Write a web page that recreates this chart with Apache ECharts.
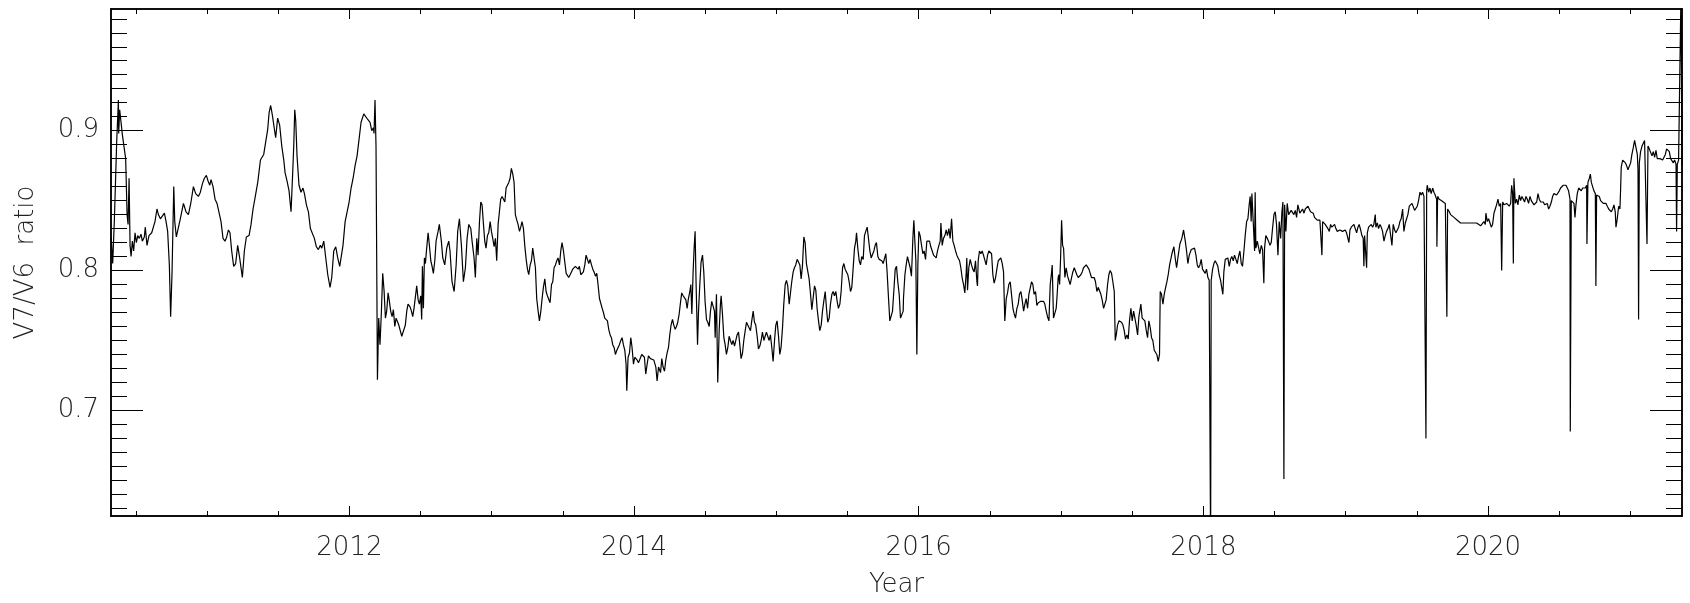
<!DOCTYPE html>
<html>
<head>
<meta charset="utf-8">
<script src="https://cdn.jsdelivr.net/npm/echarts@6/dist/echarts.min.js"></script>
<style>
  html, body { margin: 0; padding: 0; background: #fff; }
  #main { width: 1690px; height: 603px; }
</style>
</head>
<body>
<div id="main"></div>
<script>
// V7/V6 ratio, [decimal year, ratio]
const ratio2010 = [
  [2010.327,0.823],[2010.337,0.805],[2010.349,0.837],[2010.365,0.892],[2010.377,0.922],[2010.379,0.898],[2010.386,0.915],
  [2010.405,0.897],[2010.428,0.880],[2010.438,0.840],[2010.445,0.833],[2010.452,0.866],[2010.459,0.818],[2010.466,0.810],
  [2010.475,0.821],[2010.484,0.814],[2010.494,0.827],[2010.503,0.820],[2010.513,0.825],[2010.524,0.823],[2010.536,0.826],
  [2010.545,0.821],[2010.559,0.824],[2010.566,0.831],[2010.578,0.818],[2010.592,0.825],[2010.611,0.827],[2010.625,0.827],
  [2010.634,0.835],[2010.648,0.844],[2010.658,0.840],[2010.672,0.837],[2010.686,0.838],[2010.700,0.841],[2010.712,0.835],
  [2010.723,0.828],[2010.735,0.804],[2010.744,0.767],[2010.754,0.799],[2010.766,0.860],[2010.773,0.835],[2010.784,0.824],
  [2010.798,0.825],[2010.812,0.837],[2010.834,0.848],[2010.852,0.842],[2010.869,0.840],[2010.887,0.849],[2010.904,0.860],
  [2010.920,0.855],[2010.939,0.853],[2010.953,0.856],[2010.967,0.862],[2010.981,0.866],[2010.995,0.868]
];
const ratio2011 = [
  [2011.007,0.864],[2011.019,0.861],[2011.028,0.865],[2011.042,0.860],[2011.056,0.851],[2011.070,0.848],[2011.084,0.847],
  [2011.098,0.835],[2011.112,0.823],[2011.126,0.821],[2011.138,0.824],[2011.150,0.829],[2011.161,0.827],[2011.173,0.814],
  [2011.187,0.803],[2011.201,0.805],[2011.215,0.818],[2011.229,0.809],[2011.248,0.795],[2011.262,0.814],[2011.276,0.824],
  [2011.295,0.825],[2011.309,0.833],[2011.323,0.844],[2011.337,0.852],[2011.356,0.863],[2011.375,0.879],[2011.398,0.883],
  [2011.412,0.892],[2011.426,0.901],[2011.436,0.913],[2011.447,0.918],[2011.459,0.911],[2011.473,0.901],[2011.482,0.895],
  [2011.496,0.909],[2011.510,0.904],[2011.525,0.889],[2011.539,0.879],[2011.548,0.870],[2011.562,0.864],[2011.576,0.857],
  [2011.585,0.856],[2011.590,0.842],[2011.600,0.866],[2011.609,0.889],[2011.616,0.915],[2011.623,0.907],[2011.632,0.882],
  [2011.646,0.861],[2011.660,0.856],[2011.674,0.859],[2011.684,0.855],[2011.698,0.847],[2011.712,0.842],[2011.726,0.830],
  [2011.740,0.829],[2011.754,0.823],[2011.768,0.817],[2011.782,0.815],[2011.796,0.818],[2011.806,0.816],[2011.820,0.821],
  [2011.834,0.809],[2011.848,0.797],[2011.864,0.788],[2011.876,0.795],[2011.890,0.814],[2011.904,0.817],[2011.918,0.809],
  [2011.932,0.803],[2011.941,0.802],[2011.955,0.818],[2011.970,0.835],[2011.984,0.842],[2011.998,0.849]
];
const ratio2012 = [
  [2012.012,0.859],[2012.026,0.866],[2012.040,0.875],[2012.054,0.882],[2012.068,0.894],[2012.082,0.906],[2012.101,0.912],
  [2012.115,0.911],[2012.129,0.908],[2012.145,0.906],[2012.157,0.900],[2012.169,0.902],[2012.173,0.898],[2012.180,0.922],
  [2012.187,0.889],[2012.197,0.722],[2012.206,0.766],[2012.215,0.747],[2012.225,0.771],[2012.234,0.798],[2012.244,0.785],
  [2012.253,0.766],[2012.262,0.771],[2012.272,0.784],[2012.281,0.778],[2012.290,0.771],[2012.300,0.767],[2012.309,0.772],
  [2012.319,0.760],[2012.328,0.766],[2012.337,0.765],[2012.347,0.761],[2012.356,0.760],[2012.368,0.753],[2012.379,0.754],
  [2012.393,0.761],[2012.403,0.771],[2012.412,0.776],[2012.426,0.774],[2012.436,0.771],[2012.445,0.767],[2012.454,0.773],
  [2012.464,0.774],[2012.473,0.789],[2012.483,0.779],[2012.492,0.776],[2012.501,0.782],[2012.508,0.765],[2012.513,0.803],
  [2012.520,0.773],[2012.527,0.809],[2012.534,0.805],[2012.543,0.816],[2012.553,0.827],[2012.562,0.818],[2012.572,0.807],
  [2012.581,0.803],[2012.590,0.798],[2012.600,0.807],[2012.609,0.821],[2012.623,0.828],[2012.632,0.833],[2012.646,0.821],
  [2012.656,0.809],[2012.670,0.804],[2012.684,0.816],[2012.698,0.821],[2012.707,0.814],[2012.721,0.792],[2012.736,0.785],
  [2012.750,0.804],[2012.761,0.828],[2012.773,0.837],[2012.787,0.818],[2012.801,0.792],[2012.815,0.802],[2012.827,0.823],
  [2012.839,0.833],[2012.853,0.830],[2012.862,0.821],[2012.876,0.809],[2012.885,0.795],[2012.895,0.823],[2012.904,0.811],
  [2012.914,0.835],[2012.923,0.849],[2012.932,0.847],[2012.942,0.833],[2012.951,0.821],[2012.960,0.816],[2012.970,0.825],
  [2012.979,0.827],[2012.989,0.835],[2012.998,0.828]
];
const ratio2013 = [
  [2013.007,0.823],[2013.017,0.817],[2013.026,0.823],[2013.035,0.807],[2013.045,0.833],[2013.054,0.842],[2013.063,0.851],
  [2013.073,0.853],[2013.082,0.854],[2013.092,0.849],[2013.101,0.859],[2013.110,0.861],[2013.120,0.863],[2013.129,0.866],
  [2013.138,0.873],[2013.148,0.869],[2013.157,0.863],[2013.166,0.840],[2013.176,0.836],[2013.185,0.833],[2013.195,0.828],
  [2013.204,0.831],[2013.213,0.835],[2013.223,0.830],[2013.232,0.818],[2013.242,0.808],[2013.251,0.801],[2013.260,0.797],
  [2013.270,0.804],[2013.279,0.807],[2013.288,0.816],[2013.298,0.817],[2013.307,0.802],[2013.316,0.780],[2013.326,0.771],
  [2013.335,0.764],[2013.345,0.771],[2013.354,0.780],[2013.363,0.788],[2013.373,0.794],[2013.382,0.785],[2013.391,0.782],
  [2013.401,0.783],[2013.410,0.777],[2013.420,0.790],[2013.429,0.792],[2013.438,0.802],[2013.448,0.804],[2013.457,0.807],
  [2013.466,0.809],[2013.476,0.804],[2013.485,0.814],[2013.494,0.820],[2013.504,0.814],[2013.513,0.815],[2013.523,0.798],
  [2013.532,0.797],[2013.541,0.795],[2013.551,0.797],[2013.560,0.799],[2013.569,0.801],[2013.579,0.801],[2013.588,0.803],
  [2013.597,0.802],[2013.607,0.801],[2013.616,0.803],[2013.626,0.797],[2013.635,0.797],[2013.644,0.799],[2013.654,0.804],
  [2013.663,0.811],[2013.672,0.812],[2013.682,0.805],[2013.691,0.808],[2013.701,0.804],[2013.710,0.801],[2013.719,0.799],
  [2013.729,0.796],[2013.738,0.798],[2013.747,0.790],[2013.757,0.780],[2013.766,0.779],[2013.776,0.773],[2013.785,0.770],
  [2013.794,0.766],[2013.804,0.765],[2013.813,0.764],[2013.822,0.758],[2013.832,0.754],[2013.841,0.752],[2013.850,0.747],
  [2013.860,0.745],[2013.869,0.740],[2013.879,0.743],[2013.888,0.745],[2013.897,0.747],[2013.907,0.750],[2013.916,0.752],
  [2013.925,0.747],[2013.935,0.743],[2013.944,0.733],[2013.949,0.714],[2013.958,0.738],[2013.968,0.741],[2013.977,0.752],
  [2013.986,0.745],[2013.996,0.733]
];
const ratio2014 = [
  [2014.005,0.738],[2014.022,0.736],[2014.031,0.734],[2014.043,0.734],[2014.054,0.740],[2014.064,0.741],[2014.073,0.738],
  [2014.082,0.726],[2014.092,0.733],[2014.101,0.739],[2014.115,0.737],[2014.129,0.738],[2014.139,0.736],[2014.153,0.731],
  [2014.162,0.721],[2014.172,0.731],[2014.186,0.727],[2014.195,0.737],[2014.204,0.731],[2014.214,0.728],[2014.223,0.736],
  [2014.232,0.741],[2014.242,0.745],[2014.251,0.754],[2014.260,0.761],[2014.270,0.765],[2014.279,0.761],[2014.289,0.758],
  [2014.298,0.760],[2014.307,0.763],[2014.317,0.769],[2014.326,0.777],[2014.335,0.784],[2014.345,0.782],[2014.354,0.783],
  [2014.364,0.779],[2014.373,0.773],[2014.382,0.780],[2014.392,0.785],[2014.399,0.790],[2014.406,0.769],[2014.415,0.799],
  [2014.422,0.816],[2014.429,0.828],[2014.436,0.790],[2014.446,0.747],[2014.453,0.771],[2014.462,0.790],[2014.471,0.806],
  [2014.481,0.811],[2014.490,0.799],[2014.499,0.778],[2014.509,0.765],[2014.518,0.763],[2014.528,0.760],[2014.537,0.771],
  [2014.546,0.778],[2014.556,0.779],[2014.565,0.771],[2014.570,0.752],[2014.579,0.783],[2014.588,0.720],[2014.598,0.757],
  [2014.607,0.776],[2014.612,0.782],[2014.621,0.769],[2014.631,0.752],[2014.640,0.747],[2014.649,0.740],[2014.659,0.745],
  [2014.668,0.753],[2014.677,0.750],[2014.687,0.747],[2014.696,0.750],[2014.706,0.746],[2014.715,0.750],[2014.724,0.754],
  [2014.734,0.756],[2014.743,0.747],[2014.752,0.737],[2014.762,0.741],[2014.771,0.750],[2014.781,0.757],[2014.790,0.763],
  [2014.799,0.761],[2014.809,0.760],[2014.818,0.757],[2014.827,0.764],[2014.837,0.771],[2014.846,0.763],[2014.855,0.761],
  [2014.865,0.753],[2014.874,0.744],[2014.884,0.746],[2014.893,0.750],[2014.902,0.756],[2014.912,0.750],[2014.921,0.753],
  [2014.930,0.756],[2014.940,0.757],[2014.949,0.750],[2014.958,0.754],[2014.968,0.745],[2014.977,0.735],[2014.987,0.750],
  [2014.996,0.761]
];
const ratio2015 = [
  [2015.005,0.764],[2015.015,0.753],[2015.024,0.740],[2015.033,0.745],[2015.043,0.759],[2015.052,0.776],[2015.062,0.790],
  [2015.071,0.793],[2015.080,0.789],[2015.090,0.776],[2015.099,0.777],[2015.108,0.792],[2015.118,0.799],[2015.127,0.802],
  [2015.136,0.804],[2015.146,0.808],[2015.155,0.807],[2015.165,0.804],[2015.174,0.794],[2015.183,0.803],[2015.193,0.824],
  [2015.202,0.820],[2015.211,0.805],[2015.221,0.804],[2015.230,0.794],[2015.240,0.783],[2015.249,0.772],[2015.258,0.773],
  [2015.268,0.789],[2015.277,0.786],[2015.286,0.773],[2015.296,0.764],[2015.305,0.757],[2015.315,0.761],[2015.324,0.771],
  [2015.333,0.778],[2015.343,0.785],[2015.352,0.773],[2015.361,0.763],[2015.371,0.766],[2015.380,0.776],[2015.390,0.783],
  [2015.399,0.785],[2015.408,0.782],[2015.418,0.785],[2015.427,0.778],[2015.436,0.773],[2015.446,0.776],[2015.455,0.785],
  [2015.465,0.802],[2015.474,0.805],[2015.483,0.801],[2015.493,0.802],[2015.502,0.797],[2015.511,0.792],[2015.521,0.785],
  [2015.530,0.788],[2015.539,0.801],[2015.549,0.816],[2015.558,0.821],[2015.563,0.827],[2015.572,0.816],[2015.582,0.807],
  [2015.591,0.804],[2015.600,0.810],[2015.610,0.808],[2015.619,0.825],[2015.628,0.828],[2015.638,0.831],[2015.647,0.823],
  [2015.657,0.814],[2015.666,0.809],[2015.675,0.810],[2015.685,0.814],[2015.694,0.818],[2015.703,0.820],[2015.713,0.810],
  [2015.722,0.808],[2015.732,0.808],[2015.741,0.807],[2015.750,0.805],[2015.760,0.804],[2015.769,0.812],[2015.778,0.799],
  [2015.788,0.780],[2015.797,0.764],[2015.806,0.763],[2015.816,0.771],[2015.825,0.785],[2015.835,0.801],[2015.844,0.803],
  [2015.853,0.792],[2015.863,0.783],[2015.872,0.766],[2015.881,0.765],[2015.891,0.771],[2015.893,0.780],[2015.903,0.797],
  [2015.912,0.804],[2015.921,0.810],[2015.931,0.809],[2015.940,0.802],[2015.949,0.796],[2015.954,0.809],[2015.959,0.823],
  [2015.966,0.836],[2015.973,0.821],[2015.980,0.807],[2015.987,0.740],[2015.994,0.804]
];
const ratio2016 = [
  [2016.001,0.828],[2016.010,0.825],[2016.020,0.818],[2016.029,0.812],[2016.038,0.814],[2016.048,0.808],[2016.057,0.821],
  [2016.067,0.822],[2016.076,0.821],[2016.085,0.817],[2016.095,0.814],[2016.104,0.811],[2016.113,0.812],[2016.123,0.809],
  [2016.132,0.814],[2016.142,0.818],[2016.151,0.821],[2016.156,0.834],[2016.165,0.818],[2016.174,0.823],[2016.184,0.825],
  [2016.193,0.829],[2016.202,0.825],[2016.212,0.830],[2016.221,0.823],[2016.231,0.837],[2016.240,0.821],[2016.249,0.818],
  [2016.259,0.814],[2016.268,0.811],[2016.277,0.809],[2016.287,0.807],[2016.296,0.802],[2016.305,0.795],[2016.315,0.790],
  [2016.324,0.784],[2016.334,0.799],[2016.338,0.809],[2016.343,0.786],[2016.352,0.802],[2016.362,0.808],[2016.371,0.804],
  [2016.380,0.801],[2016.390,0.799],[2016.399,0.807],[2016.409,0.792],[2016.413,0.789],[2016.418,0.807],[2016.427,0.814],
  [2016.437,0.812],[2016.446,0.814],[2016.455,0.811],[2016.465,0.812],[2016.474,0.804],[2016.484,0.811],[2016.493,0.814],
  [2016.502,0.815],[2016.512,0.812],[2016.521,0.797],[2016.530,0.791],[2016.540,0.795],[2016.549,0.801],[2016.559,0.807],
  [2016.568,0.808],[2016.577,0.809],[2016.587,0.805],[2016.596,0.799],[2016.605,0.764],[2016.615,0.780],[2016.624,0.784],
  [2016.633,0.790],[2016.643,0.792],[2016.652,0.783],[2016.662,0.773],[2016.671,0.769],[2016.680,0.766],[2016.690,0.773],
  [2016.699,0.776],[2016.708,0.783],[2016.718,0.785],[2016.727,0.779],[2016.737,0.771],[2016.746,0.776],[2016.755,0.780],
  [2016.765,0.773],[2016.774,0.783],[2016.783,0.783],[2016.793,0.792],[2016.802,0.790],[2016.811,0.783],[2016.821,0.785],
  [2016.830,0.775],[2016.840,0.777],[2016.849,0.778],[2016.858,0.778],[2016.868,0.779],[2016.877,0.778],[2016.886,0.776],
  [2016.896,0.771],[2016.905,0.767],[2016.915,0.764],[2016.924,0.790],[2016.933,0.798],[2016.938,0.804],[2016.947,0.766],
  [2016.957,0.766],[2016.966,0.773],[2016.971,0.780],[2016.980,0.795],[2016.985,0.797],[2016.990,0.790],[2016.997,0.809]
];
const ratio2017 = [
  [2017.004,0.836],[2017.011,0.818],[2017.018,0.816],[2017.027,0.795],[2017.036,0.802],[2017.046,0.796],[2017.055,0.795],
  [2017.064,0.790],[2017.074,0.795],[2017.083,0.799],[2017.093,0.802],[2017.102,0.801],[2017.111,0.797],[2017.121,0.795],
  [2017.130,0.794],[2017.139,0.797],[2017.149,0.799],[2017.158,0.802],[2017.167,0.803],[2017.177,0.804],[2017.186,0.803],
  [2017.196,0.801],[2017.205,0.798],[2017.214,0.795],[2017.224,0.794],[2017.233,0.795],[2017.242,0.792],[2017.252,0.785],
  [2017.261,0.788],[2017.271,0.789],[2017.280,0.783],[2017.289,0.779],[2017.299,0.773],[2017.308,0.773],[2017.317,0.779],
  [2017.327,0.790],[2017.336,0.797],[2017.345,0.800],[2017.355,0.798],[2017.364,0.792],[2017.374,0.785],[2017.381,0.750],
  [2017.388,0.754],[2017.397,0.761],[2017.407,0.764],[2017.416,0.764],[2017.425,0.763],[2017.435,0.761],[2017.444,0.757],
  [2017.453,0.751],[2017.463,0.754],[2017.472,0.751],[2017.481,0.764],[2017.491,0.773],[2017.500,0.764],[2017.510,0.771],
  [2017.519,0.770],[2017.528,0.761],[2017.538,0.754],[2017.547,0.767],[2017.556,0.766],[2017.561,0.776],[2017.570,0.766],
  [2017.580,0.766],[2017.589,0.764],[2017.599,0.757],[2017.608,0.752],[2017.617,0.764],[2017.627,0.759],[2017.636,0.752],
  [2017.645,0.750],[2017.655,0.743],[2017.664,0.743],[2017.673,0.740],[2017.683,0.735],[2017.692,0.740],[2017.697,0.785],
  [2017.706,0.783],[2017.716,0.776],[2017.725,0.783],[2017.735,0.788],[2017.744,0.792],[2017.753,0.797],[2017.763,0.804],
  [2017.779,0.812],[2017.793,0.817],[2017.802,0.809],[2017.812,0.802],[2017.821,0.809],[2017.835,0.819],[2017.849,0.823],
  [2017.861,0.829],[2017.873,0.821],[2017.882,0.814],[2017.891,0.805],[2017.901,0.811],[2017.915,0.815],[2017.929,0.814],
  [2017.938,0.816],[2017.948,0.811],[2017.957,0.804],[2017.966,0.802],[2017.976,0.804],[2017.985,0.808],[2017.994,0.801]
];
const ratio2018 = [
  [2018.004,0.801],[2018.013,0.798],[2018.022,0.801],[2018.032,0.795],[2018.041,0.793],[2018.048,0.792],[2018.051,0.600],
  [2018.055,0.793],[2018.065,0.801],[2018.074,0.805],[2018.083,0.807],[2018.093,0.805],[2018.102,0.803],[2018.111,0.797],
  [2018.121,0.793],[2018.130,0.793],[2018.137,0.783],[2018.144,0.799],[2018.154,0.808],[2018.163,0.807],[2018.172,0.809],
  [2018.182,0.803],[2018.191,0.808],[2018.200,0.810],[2018.210,0.807],[2018.219,0.811],[2018.229,0.808],[2018.238,0.805],
  [2018.247,0.810],[2018.257,0.814],[2018.266,0.805],[2018.275,0.803],[2018.285,0.814],[2018.294,0.825],[2018.304,0.835],
  [2018.313,0.837],[2018.322,0.847],[2018.329,0.853],[2018.336,0.835],[2018.341,0.855],[2018.348,0.854],[2018.355,0.856],
  [2018.360,0.814],[2018.364,0.856],[2018.369,0.816],[2018.379,0.821],[2018.388,0.820],[2018.397,0.812],[2018.407,0.818],
  [2018.416,0.815],[2018.425,0.791],[2018.430,0.816],[2018.439,0.825],[2018.449,0.823],[2018.458,0.821],[2018.468,0.818],
  [2018.477,0.820],[2018.486,0.830],[2018.496,0.840],[2018.505,0.842],[2018.514,0.833],[2018.524,0.811],[2018.533,0.835],
  [2018.543,0.823],[2018.552,0.842],[2018.559,0.849],[2018.566,0.651],[2018.571,0.847],[2018.580,0.828],[2018.589,0.848],
  [2018.599,0.840],[2018.608,0.841],[2018.617,0.843],[2018.627,0.842],[2018.636,0.840],[2018.646,0.843],[2018.655,0.838],
  [2018.664,0.847],[2018.669,0.848],[2018.678,0.841],[2018.688,0.842],[2018.697,0.844],[2018.707,0.841],[2018.716,0.844],
  [2018.725,0.844],[2018.735,0.846],[2018.744,0.844],[2018.753,0.842],[2018.763,0.841],[2018.772,0.841],[2018.781,0.838],
  [2018.791,0.837],[2018.800,0.836],[2018.810,0.835],[2018.819,0.836],[2018.828,0.835],[2018.833,0.811],[2018.838,0.835],
  [2018.847,0.834],[2018.856,0.833],[2018.866,0.833],[2018.875,0.830],[2018.885,0.828],[2018.894,0.833],[2018.903,0.831],
  [2018.913,0.831],[2018.922,0.833],[2018.931,0.830],[2018.941,0.828],[2018.950,0.827],[2018.959,0.829],[2018.969,0.828],
  [2018.978,0.828],[2018.988,0.829],[2018.997,0.829]
];
const ratio2019 = [
  [2019.006,0.827],[2019.016,0.828],[2019.023,0.820],[2019.030,0.829],[2019.039,0.831],[2019.048,0.831],[2019.058,0.833],
  [2019.067,0.830],[2019.077,0.827],[2019.086,0.831],[2019.095,0.833],[2019.105,0.829],[2019.114,0.825],[2019.123,0.823],
  [2019.128,0.803],[2019.133,0.825],[2019.142,0.825],[2019.147,0.802],[2019.152,0.827],[2019.161,0.831],[2019.170,0.830],
  [2019.180,0.833],[2019.189,0.831],[2019.198,0.833],[2019.208,0.840],[2019.212,0.831],[2019.222,0.834],[2019.231,0.830],
  [2019.241,0.833],[2019.250,0.831],[2019.259,0.828],[2019.269,0.821],[2019.278,0.825],[2019.287,0.828],[2019.297,0.830],
  [2019.306,0.833],[2019.315,0.834],[2019.325,0.818],[2019.334,0.833],[2019.344,0.829],[2019.353,0.827],[2019.362,0.827],
  [2019.372,0.831],[2019.381,0.835],[2019.390,0.837],[2019.400,0.844],[2019.409,0.828],[2019.419,0.834],[2019.428,0.837],
  [2019.437,0.840],[2019.447,0.846],[2019.456,0.847],[2019.466,0.848],[2019.475,0.847],[2019.484,0.843],[2019.494,0.842],
  [2019.503,0.846],[2019.512,0.850],[2019.522,0.856],[2019.531,0.854],[2019.540,0.856],[2019.550,0.853],[2019.559,0.854],
  [2019.564,0.680],[2019.569,0.857],[2019.573,0.861],[2019.583,0.856],[2019.592,0.859],[2019.601,0.855],[2019.611,0.859],
  [2019.620,0.856],[2019.629,0.854],[2019.639,0.851],[2019.641,0.817],[2019.646,0.853],[2019.657,0.851],[2019.672,0.850],
  [2019.686,0.849],[2019.700,0.848],[2019.709,0.849],[2019.711,0.767],[2019.716,0.844],[2019.728,0.842],[2019.737,0.840],
  [2019.747,0.840],[2019.761,0.838],[2019.770,0.837],[2019.784,0.836],[2019.793,0.835],[2019.807,0.834],[2019.821,0.834],
  [2019.836,0.834],[2019.850,0.835],[2019.864,0.834],[2019.878,0.835],[2019.892,0.834],[2019.906,0.834],[2019.920,0.834],
  [2019.934,0.833],[2019.948,0.832],[2019.962,0.833],[2019.971,0.835],[2019.981,0.833],[2019.985,0.841],[2019.995,0.835]
];
const ratio2020 = [
  [2020.004,0.837],[2020.014,0.834],[2020.023,0.831],[2020.032,0.833],[2020.042,0.841],[2020.051,0.844],[2020.060,0.847],
  [2020.070,0.851],[2020.079,0.846],[2020.089,0.848],[2020.096,0.800],[2020.103,0.849],[2020.112,0.847],[2020.121,0.847],
  [2020.131,0.848],[2020.140,0.849],[2020.149,0.846],[2020.159,0.848],[2020.166,0.861],[2020.173,0.855],[2020.178,0.805],
  [2020.182,0.866],[2020.192,0.848],[2020.201,0.851],[2020.210,0.847],[2020.220,0.854],[2020.229,0.850],[2020.238,0.853],
  [2020.248,0.851],[2020.257,0.849],[2020.267,0.853],[2020.276,0.851],[2020.285,0.848],[2020.295,0.853],[2020.304,0.850],
  [2020.313,0.849],[2020.323,0.847],[2020.332,0.846],[2020.342,0.849],[2020.351,0.855],[2020.360,0.851],[2020.370,0.849],
  [2020.379,0.848],[2020.388,0.849],[2020.398,0.847],[2020.407,0.846],[2020.416,0.848],[2020.426,0.844],[2020.435,0.846],
  [2020.445,0.849],[2020.454,0.853],[2020.463,0.855],[2020.473,0.856],[2020.482,0.854],[2020.491,0.855],[2020.501,0.857],
  [2020.510,0.859],[2020.520,0.860],[2020.529,0.861],[2020.538,0.861],[2020.548,0.861],[2020.557,0.860],[2020.566,0.857],
  [2020.576,0.851],[2020.578,0.685],[2020.585,0.850],[2020.595,0.849],[2020.604,0.848],[2020.611,0.838],[2020.618,0.847],
  [2020.627,0.855],[2020.637,0.859],[2020.646,0.860],[2020.655,0.857],[2020.665,0.859],[2020.674,0.860],[2020.684,0.859],
  [2020.693,0.861],[2020.695,0.819],[2020.702,0.863],[2020.712,0.866],[2020.719,0.869],[2020.726,0.863],[2020.735,0.860],
  [2020.744,0.857],[2020.754,0.855],[2020.758,0.789],[2020.763,0.854],[2020.773,0.855],[2020.782,0.853],[2020.791,0.850],
  [2020.801,0.849],[2020.810,0.848],[2020.819,0.847],[2020.829,0.848],[2020.838,0.846],[2020.848,0.844],[2020.857,0.843],
  [2020.866,0.842],[2020.876,0.844],[2020.885,0.847],[2020.894,0.842],[2020.899,0.831],[2020.908,0.837],[2020.918,0.846],
  [2020.927,0.844],[2020.932,0.859],[2020.936,0.874],[2020.946,0.879],[2020.955,0.880],[2020.965,0.877],[2020.974,0.875],
  [2020.983,0.872],[2020.993,0.873]
];
const ratio2021 = [
  [2021.002,0.877],[2021.011,0.883],[2021.021,0.888],[2021.030,0.893],[2021.040,0.892],[2021.049,0.883],[2021.054,0.872],
  [2021.058,0.765],[2021.063,0.877],[2021.072,0.885],[2021.082,0.889],[2021.091,0.891],[2021.100,0.893],[2021.110,0.894],
  [2021.117,0.819],[2021.124,0.889],[2021.133,0.887],[2021.143,0.886],[2021.152,0.882],[2021.161,0.885],[2021.171,0.881],
  [2021.180,0.886],[2021.189,0.880],[2021.199,0.879],[2021.208,0.880],[2021.218,0.881],[2021.227,0.879],[2021.236,0.880],
  [2021.246,0.883],[2021.255,0.887],[2021.264,0.886],[2021.274,0.885],[2021.283,0.880],[2021.292,0.879],[2021.302,0.877],
  [2021.311,0.879],[2021.321,0.876],[2021.325,0.828],[2021.330,0.876],[2021.339,0.879],[2021.349,0.880],[2021.356,1.000],
  [2021.363,0.875]
];

const yearTicks = [2012, 2014, 2016, 2018, 2020];
const yearLabels = ['2012', '2014', '2016', '2018', '2020'];
const ratioTicks = [0.7, 0.8, 0.9];
const ratioLabels = ['0.7', '0.8', '0.9'];

const xMin = 2010.325, xMax = 2021.363;
const yMin = 0.6245, yMax = 0.987;

// minor ticks: every half year, every 0.01
const halfYears = [];
for (let y = 2010.5; y <= xMax; y += 0.5) halfYears.push(y);
const hundredths = [];
for (let k = 63; k <= 98; k++) hundredths.push(k / 100);

const series = [].concat(ratio2010, ratio2011, ratio2012, ratio2013, ratio2014, ratio2015,
  ratio2016, ratio2017, ratio2018, ratio2019, ratio2020, ratio2021);

const font = 'DejaVu Sans';
const ink = '#000';

function xAx(position, ticks, len, labels) {
  return {
    type: 'value', position: position, min: xMin, max: xMax,
    axisLine: { show: true, lineStyle: { color: ink, width: 1.5 } },
    axisTick: { show: true, inside: true, length: len, customValues: ticks, lineStyle: { color: ink, width: 1 } },
    axisLabel: labels ? {
      show: true, customValues: ticks, margin: 19, color: '#222',
      fontFamily: font, fontSize: 26, fontWeight: 200,
      formatter: (v) => yearLabels[yearTicks.indexOf(Math.round(v))] || ''
    } : { show: false },
    splitLine: { show: false }
  };
}

function yAx(position, ticks, len, labels) {
  return {
    type: 'value', position: position, min: yMin, max: yMax,
    axisLine: { show: true, lineStyle: { color: ink, width: 1.5 } },
    axisTick: { show: true, inside: true, length: len, customValues: ticks, lineStyle: { color: ink, width: 1 } },
    axisLabel: labels ? {
      show: true, customValues: ticks, margin: 12, color: '#222',
      fontFamily: font, fontSize: 26, fontWeight: 200,
      formatter: (v) => ratioLabels[ratioTicks.findIndex(t => Math.abs(t - v) < 1e-6)] || ''
    } : { show: false },
    splitLine: { show: false }
  };
}

const xAxes = [
  xAx('bottom', yearTicks, 10, true),
  xAx('bottom', halfYears, 5, false),
  xAx('top', yearTicks, 10, false),
  xAx('top', halfYears, 5, false)
];
xAxes[0].name = 'Year';
xAxes[0].nameLocation = 'middle';
xAxes[0].nameGap = 56;
xAxes[0].nameTextStyle = { fontFamily: font, fontSize: 26, fontWeight: 200, color: '#222' };

const yAxes = [
  yAx('left', ratioTicks, 32, true),
  yAx('left', hundredths, 16, false),
  yAx('right', ratioTicks, 32, false),
  yAx('right', hundredths, 16, false)
];
yAxes[0].name = 'V7/V6  ratio';
yAxes[0].nameLocation = 'middle';
yAxes[0].nameGap = 72;
yAxes[0].nameTextStyle = { fontFamily: font, fontSize: 26, fontWeight: 200, color: '#222' };

const chart = echarts.init(document.getElementById('main'), null, { renderer: 'canvas' });
chart.setOption({
  animation: false,
  backgroundColor: '#fff',
  grid: { left: 111, right: 8, top: 9, bottom: 83, containLabel: false },
  xAxis: xAxes,
  yAxis: yAxes,
  series: [{
    type: 'line',
    data: series,
    xAxisIndex: 0,
    yAxisIndex: 0,
    showSymbol: false,
    clip: true,
    lineStyle: { color: ink, width: 1.2 },
    emphasis: { disabled: true }
  }]
});
</script>
</body>
</html>
